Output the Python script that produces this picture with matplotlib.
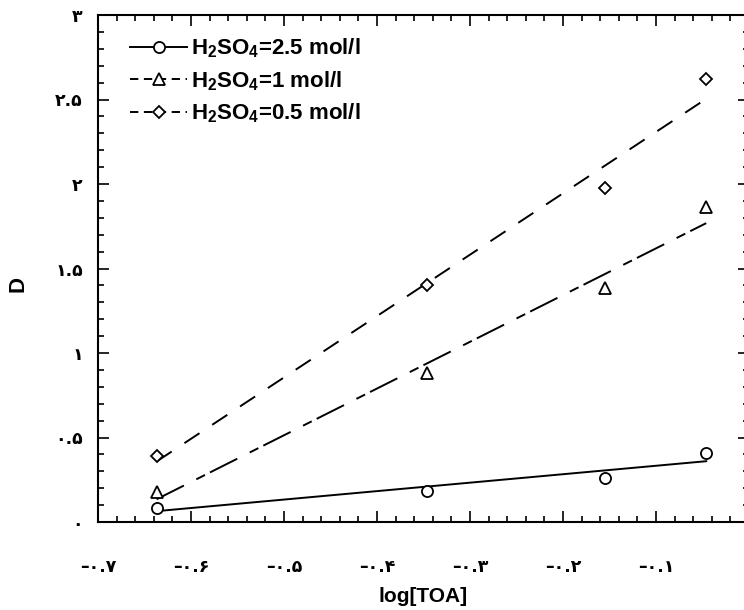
import numpy as np
import matplotlib
matplotlib.use("Agg")
import matplotlib.pyplot as plt
from matplotlib.ticker import MultipleLocator

plt.rcParams['lines.scale_dashes'] = False
plt.rcParams['mathtext.fontset'] = 'custom'
plt.rcParams['mathtext.rm'] = 'Liberation Sans:bold'
plt.rcParams['mathtext.bf'] = 'Liberation Sans:bold'
plt.rcParams['mathtext.default'] = 'bf'

# ---- data ----
log_toa = [-0.637, -0.346, -0.155, -0.046]
d_25 = [0.085, 0.186, 0.258, 0.41]     # H2SO4 = 2.5 mol/l
d_10 = [0.18, 0.88, 1.383, 1.866]      # H2SO4 = 1 mol/l
d_05 = [0.39, 1.40, 1.975, 2.62]       # H2SO4 = 0.5 mol/l

series_labels = [r'H$_2$SO$_4$=2.5 mol/l', r'H$_2$SO$_4$=1 mol/l', r'H$_2$SO$_4$=0.5 mol/l']

x_ticks = [-0.7, -0.6, -0.5, -0.4, -0.3, -0.2, -0.1]
x_tick_labels = ['–۰.۷', '–۰.۶', '–۰.۵', '–۰.۴', '–۰.۳', '–۰.۲', '–۰.۱']
y_ticks = [0, 0.5, 1, 1.5, 2, 2.5, 3]
y_tick_labels = ['۰', '۰.۵', '۱', '۱.۵', '۲', '۲.۵', '۳']

fig = plt.figure(figsize=(7.44, 6.10), dpi=100)
ax = fig.add_axes([98/744, 88/610, 651/744, 507/610])

x = np.array(log_toa)
styles = [
    dict(marker='o', ms=8.0, dashes=None),
    dict(marker='^', ms=8.0, dashes=(22, 10, 7, 4)),
    dict(marker='D', ms=6.0, dashes=(13, 11)),
]
for ys, lab, st in zip([d_25, d_10, d_05], series_labels, styles):
    ys = np.array(ys)
    k, b = np.polyfit(x, ys, 1)
    xf = np.array([x.min(), x.max()])
    line, = ax.plot(xf, k * xf + b, color='black', lw=1.4, ls='-')
    if st['dashes'] is not None:
        line.set_dashes(st['dashes'])
    ax.plot(x, ys, ls='none', marker=st['marker'], ms=st['ms'], mfc='white',
            mec='black', mew=1.3)
    proxy, = ax.plot([], [], color='black', lw=1.4, ls='-', marker=st['marker'], ms=st['ms'],
                     mfc='white', mec='black', mew=1.3, label=lab)
    if st['dashes'] is not None:
        proxy.set_dashes((6, 4))

ax.set_xlim(-0.7, 0.0)
ax.set_ylim(0, 3)
ax.set_xticks(x_ticks)
ax.set_xticklabels(x_tick_labels, fontsize=12.5, fontweight='bold', family=['DejaVu Sans'])
ax.set_yticks(y_ticks)
ax.set_yticklabels(y_tick_labels, fontsize=12.5, fontweight='bold', family=['DejaVu Sans'])
ax.xaxis.set_minor_locator(MultipleLocator(0.02))
ax.yaxis.set_minor_locator(MultipleLocator(0.1))
ax.tick_params(which='both', direction='in', top=True, right=True, width=1.2, colors='black')
ax.tick_params(which='major', length=8)
ax.tick_params(axis='x', which='major', pad=26)
ax.tick_params(axis='y', which='major', pad=11)
ax.tick_params(which='minor', length=4)
for s in ax.spines.values():
    s.set_linewidth(1.5)

ax.set_xlabel('log[TOA]', fontsize=15, fontweight='bold', family=['Liberation Sans'], labelpad=8)
ax.set_ylabel('D', fontsize=16, fontweight='bold', family=['Liberation Sans'])
ax.yaxis.set_label_coords(-0.107, 0.47)

leg = ax.legend(loc='upper left', frameon=False,
                prop={'family': 'Liberation Sans', 'size': 16, 'weight': 'bold'},
                handlelength=2.6, handletextpad=0.15, labelspacing=0.4,
                borderaxespad=0.0, bbox_to_anchor=(0.035, 0.975))

fig.savefig('out.png', dpi=100)
